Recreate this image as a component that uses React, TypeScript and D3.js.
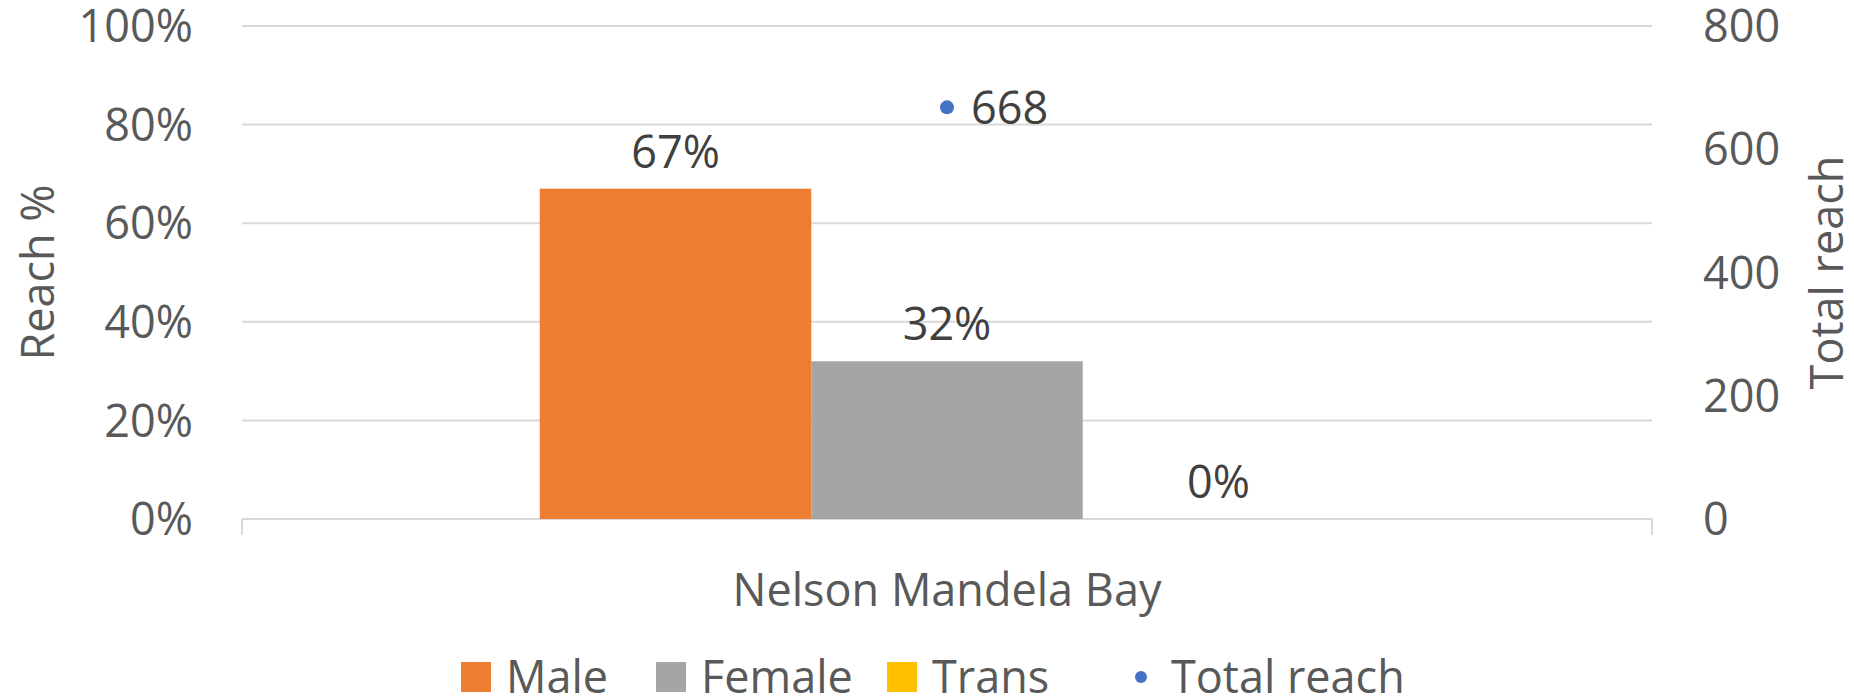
import { scaleLinear, scaleBand } from "d3"

const categories = ["Nelson Mandela Bay"]
const seriesNames = ["Male", "Female", "Trans"]
const seriesColors = ["#ED7D31", "#A5A5A5", "#FFC000"]
const reachPct = [0.67, 0.32, 0.0]
const reachLabels = ["67%", "32%", "0%"]
const totalReach = [668]
const leftTicks = [0, 0.2, 0.4, 0.6, 0.8, 1.0]
const rightTicks = [0, 200, 400, 600, 800]

const W = 1854
const H = 699
const left = 242
const right = 1652
const top = 26
const bottom = 519
const font = "'Open Sans', 'Noto Sans', sans-serif"
const fs = 45

const App = () => {
  const yLeft = scaleLinear().domain([0, 1]).range([bottom, top])
  const yRight = scaleLinear().domain([0, 800]).range([bottom, top])
  const xCat = scaleBand().domain(categories).range([left, right]).paddingInner(0).paddingOuter(0.3656)
  const xSeries = scaleBand().domain(seriesNames).range([0, xCat.bandwidth()])

  const legendItems = [
    { name: "Male", type: "rect", color: seriesColors[0], x: 461 },
    { name: "Female", type: "rect", color: seriesColors[1], x: 656 },
    { name: "Trans", type: "rect", color: seriesColors[2], x: 887 },
    { name: "Total reach", type: "dot", color: "#4472C4", x: 1126 },
  ]

  return (
    <svg width={W} height={H} style={{ position: "absolute", left: 0, top: 0, background: "#fff" }} fontFamily={font}>
      {/* grid */}
      {leftTicks.map(t => (
        <line key={t} x1={left} x2={right} y1={yLeft(t)} y2={yLeft(t)} stroke="#d9d9d9" strokeWidth={2} />
      ))}
      <line x1={left} x2={left} y1={bottom} y2={bottom + 16} stroke="#d9d9d9" strokeWidth={2} />
      <line x1={right} x2={right} y1={bottom} y2={bottom + 16} stroke="#d9d9d9" strokeWidth={2} />

      {/* left ticks */}
      {leftTicks.map(t => (
        <text key={t} x={193} y={yLeft(t)} dy="0.36em" textAnchor="end" fontSize={fs} fill="#595959">
          {Math.round(t * 100)}%
        </text>
      ))}
      {/* right ticks */}
      {rightTicks.map(t => (
        <text key={t} x={1703} y={yRight(t)} dy="0.36em" textAnchor="start" fontSize={fs} fill="#595959">
          {t}
        </text>
      ))}

      <text transform={`translate(38, ${(top + bottom) / 2}) rotate(-90)`} textAnchor="middle" dy="0.36em" fontSize={fs} fill="#595959">
        Reach %
      </text>
      <text transform={`translate(1827, ${(top + bottom) / 2}) rotate(-90)`} textAnchor="middle" dy="0.36em" fontSize={fs} fill="#595959">
        Total reach
      </text>

      {/* bars */}
      {categories.map(c => (
        <g key={c} transform={`translate(${xCat(c)},0)`}>
          {seriesNames.map((s, i) => (
            <g key={s}>
              <rect x={xSeries(s)} y={yLeft(reachPct[i])} width={xSeries.bandwidth()} height={bottom - yLeft(reachPct[i])} fill={seriesColors[i]} />
              <text x={xSeries(s) + xSeries.bandwidth() / 2} y={yLeft(reachPct[i]) - 21} textAnchor="middle" fontSize={fs} fill="#404040">
                {reachLabels[i]}
              </text>
            </g>
          ))}
        </g>
      ))}

      {/* total reach points */}
      {categories.map((c, i) => {
        const cx = xCat(c) + xCat.bandwidth() / 2
        return (
          <g key={c}>
            <circle cx={cx} cy={yRight(totalReach[i])} r={7} fill="#4472C4" />
            <text x={cx + 24} y={yRight(totalReach[i])} dy="0.36em" fontSize={fs} fill="#404040">
              {totalReach[i]}
            </text>
          </g>
        )
      })}

      {/* category label */}
      {categories.map(c => (
        <text key={c} x={xCat(c) + xCat.bandwidth() / 2} y={590} dy="0.36em" textAnchor="middle" fontSize={fs} fill="#595959">
          {c}
        </text>
      ))}

      {/* legend */}
      {legendItems.map(d => (
        <g key={d.name}>
          {d.type === "rect" ? (
            <rect x={d.x} y={662} width={30} height={30} fill={d.color} />
          ) : (
            <circle cx={d.x + 15} cy={677} r={6} fill={d.color} />
          )}
          <text x={d.x + 45} y={677} dy="0.36em" fontSize={fs} fill="#595959">
            {d.name}
          </text>
        </g>
      ))}
    </svg>
  )
}

export default App
